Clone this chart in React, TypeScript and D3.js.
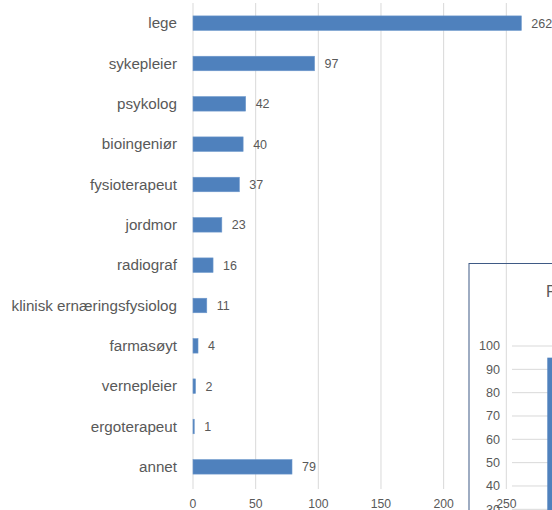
import React from "react";
import * as d3 from "d3";

const categories = [
  "lege",
  "sykepleier",
  "psykolog",
  "bioingeniør",
  "fysioterapeut",
  "jordmor",
  "radiograf",
  "klinisk ernæringsfysiolog",
  "farmasøyt",
  "vernepleier",
  "ergoterapeut",
  "annet",
];
const values = [262, 97, 42, 40, 37, 23, 16, 11, 4, 2, 1, 79];
const xTicks = [0, 50, 100, 150, 200, 250];

// partially visible inset chart
const insetTitle = "P";
const insetTicks = [0, 10, 20, 30, 40, 50, 60, 70, 80, 90, 100];
const insetValues = [95];

const W = 552;
const H = 510;
const FONT = "'Liberation Sans', Arial, sans-serif";
const TEXT = "#595959";
const BLUE = "#4F81BD";
const GRID = "#D9D9D9";

export default function App() {
  const x = d3.scaleLinear().domain([0, 250]).range([193, 506.3]);
  const y = d3
    .scaleBand<string>()
    .domain(categories)
    .range([3, 487])
    .paddingInner(0.64)
    .paddingOuter(0.32);

  const iy = d3.scaleLinear().domain([0, 100]).range([579.3, 346]);
  const ix = d3.scaleBand<number>().domain([0]).range([512, 600]);

  return (
    <svg
      width={W}
      height={H}
      style={{ position: "absolute", left: 0, top: 0, background: "#fff" }}
      fontFamily={FONT}
    >
      <rect x={0} y={0} width={W} height={H} fill="#fff" />
      {/* gridlines */}
      {xTicks.map((t) => (
        <line
          key={"g" + t}
          x1={x(t)}
          x2={x(t)}
          y1={3}
          y2={489}
          stroke={GRID}
          strokeWidth={1}
        />
      ))}
      {/* bars */}
      {categories.map((c, i) => (
        <rect
          key={c}
          x={x(0)}
          y={y(c)}
          width={x(values[i]) - x(0)}
          height={y.bandwidth()}
          fill={BLUE}
          stroke="#6E98CC"
          strokeWidth={0.6}
        />
      ))}
      {/* category labels */}
      {categories.map((c) => (
        <text
          key={"l" + c}
          x={177}
          y={(y(c) as number) + y.bandwidth() / 2}
          dy="0.35em"
          textAnchor="end"
          fontSize={15.2}
          fill={TEXT}
        >
          {c}
        </text>
      ))}
      {/* value labels */}
      {categories.map((c, i) => (
        <text
          key={"v" + c}
          x={x(values[i]) + 10}
          y={(y(c) as number) + y.bandwidth() / 2}
          dy="0.35em"
          fontSize={12.5}
          fill={TEXT}
        >
          {values[i]}
        </text>
      ))}
      {/* x tick labels */}
      {xTicks.map((t) => (
        <text
          key={"t" + t}
          x={x(t)}
          y={504}
          dy="0.35em"
          textAnchor="middle"
          fontSize={12.2}
          fill={TEXT}
        >
          {t}
        </text>
      ))}

      {/* inset chart (cut off by the frame) */}
      <g>
        <rect
          x={469}
          y={263.5}
          width={200}
          height={300}
          fill="none"
          stroke="#3F5A85"
          strokeWidth={1}
        />
        <text
          x={546}
          y={291}
          dy="0.35em"
          fontSize={16}
          fill={TEXT}
        >
          {insetTitle}
        </text>
        {insetTicks.map((t) => (
          <line
            key={"ig" + t}
            x1={512}
            x2={620}
            y1={iy(t)}
            y2={iy(t)}
            stroke={GRID}
            strokeWidth={1}
          />
        ))}
        {insetTicks.map((t) => (
          <text
            key={"it" + t}
            x={500}
            y={iy(t)}
            dy="0.35em"
            textAnchor="end"
            fontSize={12.6}
            fill={TEXT}
          >
            {t}
          </text>
        ))}
        {insetValues.map((v, i) => (
          <rect
            key={"ib" + i}
            x={547.3}
            y={iy(v)}
            width={40}
            height={iy(0) - iy(v)}
            fill={BLUE}
          />
        ))}
      </g>
    </svg>
  );
}
